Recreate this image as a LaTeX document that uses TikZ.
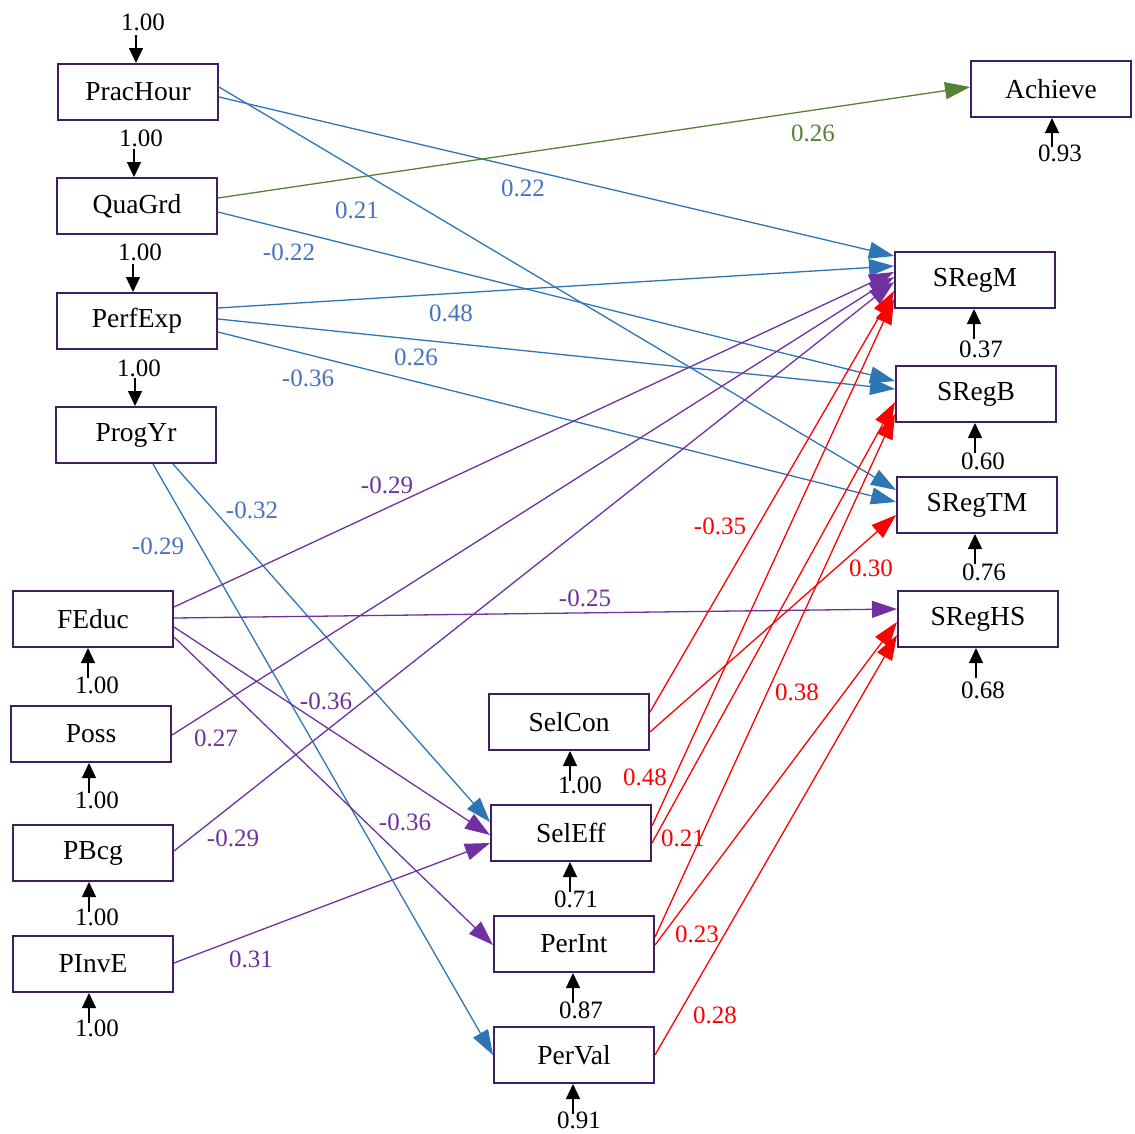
\documentclass[tikz,border=0pt]{standalone}
\usepackage{fontspec}
\setmainfont{Liberation Serif}
\usetikzlibrary{arrows.meta}
\definecolor{pathblue}{HTML}{2E75B6}
\definecolor{labblue}{HTML}{4472C4}
\definecolor{pathpurple}{HTML}{7030A0}
\definecolor{pathgreen}{HTML}{548235}
\definecolor{pathred}{HTML}{FF0000}
\definecolor{boxline}{HTML}{3F1F5F}
\begin{document}
\begin{tikzpicture}[x=1pt,y=-1pt,
  var/.style={draw=boxline, line width=2pt, minimum width=160pt, minimum height=56pt,
              inner sep=0pt, font=\fontsize{27.5}{30}\selectfont},
  lab/.style={font=\fontsize{25}{28}\selectfont, inner sep=0pt},
  eff/.style={line width=1.3pt, draw=#1, -{Triangle[length=25pt,width=17pt]}},
  varr/.style={line width=1.3pt, draw=black, -{Triangle[length=15pt,width=14pt]}}]
\useasboundingbox (0,0) rectangle (1135,1133);

% observed variables
\node[var] (PracHour) at (138,92)  {PracHour};
\node[var] (QuaGrd)   at (137,206) {QuaGrd};
\node[var] (PerfExp)  at (137,321) {PerfExp};
\node[var] (ProgYr)   at (136,435) {ProgYr};
\node[var] (FEduc)    at (93,619)  {FEduc};
\node[var] (Poss)     at (91,734)  {Poss};
\node[var] (PBcg)     at (93,853)  {PBcg};
\node[var] (PInvE)    at (93,964)  {PInvE};
\node[var] (SelCon)   at (569,722) {SelCon};
\node[var] (SelEff)   at (571,833) {SelEff};
\node[var] (PerInt)   at (574,944) {PerInt};
\node[var] (PerVal)   at (574,1055) {PerVal};
\node[var] (Achieve)  at (1051,89) {Achieve};
\node[var] (SRegM)    at (975,280) {SRegM};
\node[var] (SRegB)    at (976,394) {SRegB};
\node[var] (SRegTM)   at (977,505) {SRegTM};
\node[var] (SRegHS)   at (978,619) {SRegHS};

% blue paths
\draw[eff=pathblue] ([yshift=-5pt]PracHour.east) -- ([yshift=24pt]SRegM.west);
\draw[eff=pathblue] ([yshift=5pt]PracHour.east)  -- ([yshift=15pt]SRegTM.west);
\draw[eff=pathblue] ([yshift=-6pt]QuaGrd.east)   -- ([yshift=13pt]SRegB.west);
\draw[eff=pathblue] ([yshift=13pt]PerfExp.east)  -- ([yshift=14pt]SRegM.west);
\draw[eff=pathblue] ([yshift=2pt]PerfExp.east)   -- ([yshift=5pt]SRegB.west);
\draw[eff=pathblue] ([yshift=-11pt]PerfExp.east) -- ([yshift=3pt]SRegTM.west);
\draw[eff=pathblue] ([xshift=37pt]ProgYr.south)  -- ([yshift=11pt]SelEff.west);
\draw[eff=pathblue] ([xshift=17pt]ProgYr.south)  -- (PerVal.west);
% green path
\draw[eff=pathgreen] ([yshift=8pt]QuaGrd.east) -- ([yshift=2pt]Achieve.west);
% purple paths
\draw[eff=pathpurple] ([yshift=12pt]FEduc.east)  -- ([yshift=8pt]SRegM.west);
\draw[eff=pathpurple] ([yshift=1pt]FEduc.east)   -- ([yshift=10pt]SRegHS.west);
\draw[eff=pathpurple] ([yshift=-8pt]FEduc.east)  -- ([yshift=-2pt]SelEff.west);
\draw[eff=pathpurple] ([yshift=-18pt]FEduc.east) -- ([yshift=-1pt]PerInt.west);
\draw[eff=pathpurple] ([yshift=-1pt]Poss.east)   -- ([yshift=3pt]SRegM.west);
\draw[eff=pathpurple] ([yshift=2pt]PBcg.east)    -- ([yshift=-2pt]SRegM.west);
\draw[eff=pathpurple] ([yshift=1pt]PInvE.east)   -- ([yshift=-10pt]SelEff.west);
% red paths
\draw[eff=pathred] ([yshift=10pt]SelCon.east)  -- ([yshift=-11pt]SRegM.west);
\draw[eff=pathred] ([yshift=-10pt]SelCon.east) -- ([yshift=-10pt]SRegTM.west);
\draw[eff=pathred] ([yshift=7pt]SelEff.east)   -- ([yshift=-19pt]SRegM.west);
\draw[eff=pathred] ([yshift=-10pt]SelEff.east) -- ([yshift=-8pt]SRegB.west);
\draw[eff=pathred] ([yshift=7pt]PerInt.east)   -- ([yshift=-20pt]SRegB.west);
\draw[eff=pathred] ([yshift=-1pt]PerInt.east)  -- ([yshift=-3pt]SRegHS.west);
\draw[eff=pathred] (PerVal.east)               -- ([yshift=-16pt]SRegHS.west);

% path coefficients
\node[lab, text=labblue] (c01) at (523,188) {0.22};
\node[lab, text=labblue] (c02) at (357,210) {0.21};
\node[lab, text=labblue] (c03) at (289,252) {-0.22};
\node[lab, text=labblue] (c04) at (451,313) {0.48};
\node[lab, text=labblue] (c05) at (416,357) {0.26};
\node[lab, text=labblue] (c06) at (308,378) {-0.36};
\node[lab, text=labblue] (c07) at (252,510) {-0.32};
\node[lab, text=labblue] (c08) at (158,546) {-0.29};
\node[lab, text=pathgreen] (c09) at (813,133) {0.26};
\node[lab, text=pathpurple] (c10) at (387,485) {-0.29};
\node[lab, text=pathpurple] (c11) at (585,598) {-0.25};
\node[lab, text=pathpurple] (c12) at (326,701) {-0.36};
\node[lab, text=pathpurple] (c13) at (405,822) {-0.36};
\node[lab, text=pathpurple] (c14) at (216,738) {0.27};
\node[lab, text=pathpurple] (c15) at (233,838) {-0.29};
\node[lab, text=pathpurple] (c16) at (251,959) {0.31};
\node[lab, text=pathred] (c17) at (720,526) {-0.35};
\node[lab, text=pathred] (c18) at (871,568) {0.30};
\node[lab, text=pathred] (c19) at (645,777) {0.48};
\node[lab, text=pathred] (c20) at (683,838) {0.21};
\node[lab, text=pathred] (c21) at (797,692) {0.38};
\node[lab, text=pathred] (c22) at (697,934) {0.23};
\node[lab, text=pathred] (c23) at (715,1015) {0.28};

% variances: arrows into the top of a box
\draw[varr] ([xshift=-2pt,yshift=28pt]PracHour.north) -- ([xshift=-2pt]PracHour.north);
\draw[varr] ([xshift=-3pt,yshift=28pt]QuaGrd.north)   -- ([xshift=-3pt]QuaGrd.north);
\draw[varr] ([xshift=-4pt,yshift=28pt]PerfExp.north)  -- ([xshift=-4pt]PerfExp.north);
\draw[varr] ([xshift=-1pt,yshift=28pt]ProgYr.north)   -- ([xshift=-1pt]ProgYr.north);
\node[lab] (v01) at (143,22)  {1.00};
\node[lab] (v02) at (141,138) {1.00};
\node[lab] (v03) at (140,252) {1.00};
\node[lab] (v04) at (139,368) {1.00};
% variances: arrows into the bottom of a box
\draw[varr] ([xshift=-5pt,yshift=-30pt]FEduc.south) -- ([xshift=-5pt]FEduc.south);
\draw[varr] ([xshift=-2pt,yshift=-30pt]Poss.south)  -- ([xshift=-2pt]Poss.south);
\draw[varr] ([xshift=-4pt,yshift=-30pt]PBcg.south)  -- ([xshift=-4pt]PBcg.south);
\draw[varr] ([xshift=-4pt,yshift=-30pt]PInvE.south) -- ([xshift=-4pt]PInvE.south);
\draw[varr] ([xshift=1pt,yshift=-30pt]SelCon.south) -- ([xshift=1pt]SelCon.south);
\draw[varr] ([xshift=-1pt,yshift=-30pt]SelEff.south) -- ([xshift=-1pt]SelEff.south);
\draw[varr] ([xshift=-1pt,yshift=-30pt]PerInt.south) -- ([xshift=-1pt]PerInt.south);
\draw[varr] ([xshift=-1pt,yshift=-30pt]PerVal.south) -- ([xshift=-1pt]PerVal.south);
\draw[varr] ([xshift=1pt,yshift=-29pt]Achieve.south) -- ([xshift=1pt]Achieve.south);
\draw[varr] ([xshift=-1pt,yshift=-30pt]SRegM.south)  -- ([xshift=-1pt]SRegM.south);
\draw[varr] ([xshift=-1pt,yshift=-30pt]SRegB.south)  -- ([xshift=-1pt]SRegB.south);
\draw[varr] ([xshift=-2pt,yshift=-30pt]SRegTM.south) -- ([xshift=-2pt]SRegTM.south);
\draw[varr] ([xshift=-2pt,yshift=-30pt]SRegHS.south) -- ([xshift=-2pt]SRegHS.south);
\node[lab] (v05) at (97,685)   {1.00};
\node[lab] (v06) at (97,800)   {1.00};
\node[lab] (v07) at (97,917)   {1.00};
\node[lab] (v08) at (97,1028)  {1.00};
\node[lab] (v09) at (580,785)  {1.00};
\node[lab] (v10) at (576,899)  {0.71};
\node[lab] (v11) at (581,1010) {0.87};
\node[lab] (v12) at (579,1120) {0.91};
\node[lab] (v13) at (1060,153) {0.93};
\node[lab] (v14) at (981,349)  {0.37};
\node[lab] (v15) at (983,461)  {0.60};
\node[lab] (v16) at (984,572)  {0.76};
\node[lab] (v17) at (983,690)  {0.68};
\end{tikzpicture}
\end{document}
